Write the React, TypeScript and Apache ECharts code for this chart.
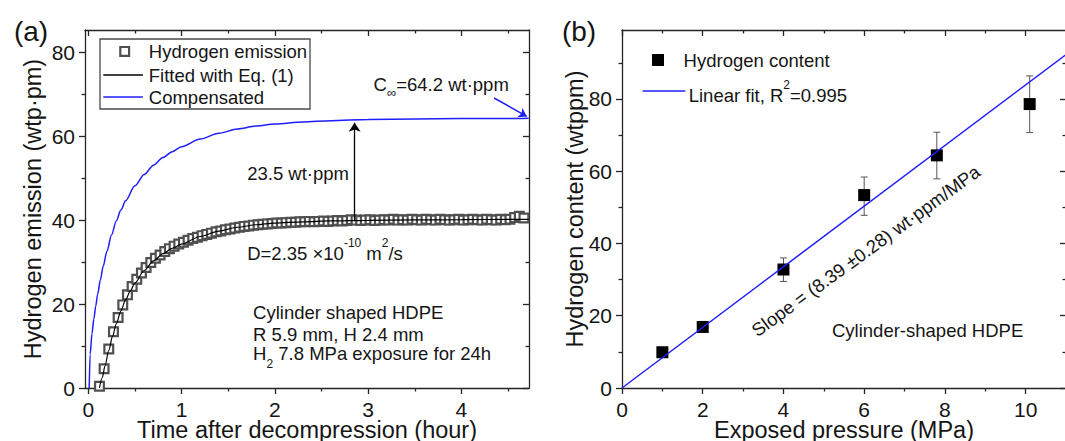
import React, { useEffect, useRef } from 'react';
import * as echarts from 'echarts';

// ---------- Panel (a) data ----------
const emissionT = [
  0.12, 0.17, 0.22, 0.27, 0.32, 0.37, 0.42, 0.47, 0.52, 0.57,
  0.62, 0.67, 0.72, 0.77, 0.82, 0.87, 0.92, 0.97, 1.02, 1.07,
  1.12, 1.17, 1.22, 1.27, 1.32, 1.37, 1.42, 1.47, 1.52, 1.57,
  1.62, 1.67, 1.72, 1.77, 1.82, 1.87, 1.92, 1.97, 2.02, 2.07,
  2.12, 2.17, 2.22, 2.27, 2.32, 2.37, 2.42, 2.47, 2.52, 2.57,
  2.62, 2.67, 2.72, 2.77, 2.82, 2.87, 2.92, 2.97, 3.02, 3.07,
  3.12, 3.17, 3.22, 3.27, 3.32, 3.37, 3.42, 3.47, 3.52, 3.57,
  3.62, 3.67, 3.72, 3.77, 3.82, 3.87, 3.92, 3.97, 4.02, 4.07,
  4.12, 4.17, 4.22, 4.27, 4.32, 4.37, 4.42, 4.47, 4.52, 4.57,
  4.62, 4.67,
];
const emissionV = [
  0.4, 4.6, 9.3, 13.4, 16.8, 19.8, 22.2, 24.2, 25.9, 27.4,
  28.7, 29.9, 30.9, 31.7, 32.5, 33.2, 33.8, 34.3, 34.7, 35.2,
  35.6, 35.9, 36.3, 36.6, 36.9, 37.2, 37.4, 37.7, 37.9, 38.1,
  38.3, 38.5, 38.6, 38.8, 38.9, 39.0, 39.1, 39.2, 39.3, 39.3,
  39.4, 39.5, 39.5, 39.6, 39.6, 39.7, 39.6, 39.7, 39.8, 39.7,
  39.8, 39.9, 39.8, 39.9, 40.1, 40.0, 39.9, 40.0, 40.1, 39.9,
  40.0, 40.1, 40.0, 40.2, 40.0, 40.1, 40.0, 40.2, 40.1, 40.0,
  40.2, 40.1, 40.0, 40.2, 40.1, 40.0, 40.1, 40.2, 40.0, 40.1,
  40.2, 40.1, 40.0, 40.2, 40.1, 40.0, 40.2, 40.1, 40.2, 40.6,
  40.9, 40.5,
];
const fitT = [0.12, 0.15, 0.18, 0.22, 0.26, 0.3, 0.35, 0.4, 0.45, 0.5, 0.6, 0.7, 0.8, 0.9, 1.0, 1.2, 1.4, 1.6, 1.8, 2.0, 2.3, 2.6, 3.0, 3.5, 4.0, 4.5, 4.72];
const fitV = [0, 2.5, 5.3, 9.0, 12.3, 15.3, 18.4, 21.0, 23.1, 25.0, 28.0, 30.3, 32.0, 33.3, 34.3, 36.1, 37.4, 38.3, 38.9, 39.3, 39.6, 39.8, 39.95, 40.05, 40.1, 40.2, 40.2];
const compT = [0.01, 0.02, 0.04, 0.06, 0.08, 0.1, 0.13, 0.16, 0.2, 0.25, 0.3, 0.35, 0.4, 0.5, 0.6, 0.7, 0.8, 0.9, 1.0, 1.2, 1.4, 1.6, 1.8, 2.0, 2.3, 2.6, 3.0, 3.5, 4.0, 4.5, 4.72];
const compV = [0, 8, 13, 16.5, 19.5, 22.3, 25.8, 29, 32.6, 36.5, 39.8, 42.4, 44.6, 48.2, 50.9, 53.1, 54.9, 56.3, 57.5, 59.3, 60.7, 61.7, 62.4, 62.9, 63.4, 63.7, 64.0, 64.1, 64.2, 64.2, 64.3];
// annotation arrows (data coordinates)
const gapArrow = [[2.855, 40.0], [2.855, 63.2]];
const cInfArrow = [[4.35, 69.1], [4.7, 64.7]];

const aXMajor = [0, 1, 2, 3, 4];
const aXMinor = [0.5, 1.5, 2.5, 3.5, 4.5];
const aYMajor = [0, 20, 40, 60, 80];
const aYMinor = [10, 30, 50, 70];

// ---------- Panel (b) data ----------
const pressure = [1, 2, 4, 6, 7.8, 10.1];
const content = [9.9, 16.9, 32.8, 53.4, 64.4, 78.6];
const contentLow = [8.9, 15.9, 29.5, 47.8, 57.9, 70.7];
const contentHigh = [10.9, 17.9, 36.0, 58.4, 70.8, 86.4];
const linFitP = [0, 11];
const linFitC = [0, 92.3];

const bXMajor = [0, 2, 4, 6, 8, 10];
const bXMinor = [1, 3, 5, 7, 9];
const bYMajor = [0, 20, 40, 60, 80];
const bYMinor = [10, 30, 50, 70, 90];

const FONT = "'Liberation Sans', Arial, Helvetica, sans-serif";
const TXT = '#151515';
const BLUE = '#1e1eff';
const GRAYM = '#505050';
const axLine = { color: '#262626', width: 1.3 };

function axesFor(dim: 'x' | 'y', grid: number, min: number, max: number, major: number[], minor: number[], name: string, nameGap: number) {
  const near = dim === 'x' ? 'bottom' : 'left';
  const far = dim === 'x' ? 'top' : 'right';
  const base = { type: 'value', gridIndex: grid, min, max, splitLine: { show: false } };
  const isX = dim === 'x';
  return [
    {
      ...base, position: near,
      axisLine: { show: true, onZero: false, lineStyle: axLine },
      axisTick: { show: true, inside: false, length: 6, customValues: major, lineStyle: axLine },
      axisLabel: isX
        ? { show: true, customValues: major, margin: 11.5, lineHeight: 19, fontSize: 21, fontFamily: FONT, color: TXT }
        : { show: true, customValues: major, margin: 10, fontSize: 21, fontFamily: FONT, color: TXT },
      name, nameLocation: 'middle', nameGap, nameMoveOverlap: false,
      nameTextStyle: isX
        ? { fontSize: 23.5, lineHeight: 20, fontFamily: FONT, color: TXT }
        : { fontSize: 23.5, fontFamily: FONT, color: TXT },
    },
    {
      ...base, position: near,
      axisLine: { show: false, onZero: false },
      axisTick: { show: true, inside: false, length: 3.5, customValues: minor, lineStyle: axLine },
      axisLabel: { show: false },
    },
    {
      ...base, position: far,
      axisLine: { show: true, onZero: false, lineStyle: axLine },
      axisTick: { show: true, inside: true, length: 6, customValues: major, lineStyle: axLine },
      axisLabel: { show: false },
    },
    {
      ...base, position: far,
      axisLine: { show: false, onZero: false },
      axisTick: { show: true, inside: true, length: 3.5, customValues: minor, lineStyle: axLine },
      axisLabel: { show: false },
    },
  ];
}

const mainTxt = { fontSize: 18.5, fontFamily: FONT, fill: TXT };

function txt(x: number, y: number, text: string, extra: any = {}) {
  return {
    type: 'text', x, y, silent: true,
    style: { text, ...mainTxt, align: 'left', verticalAlign: 'middle', ...extra },
  };
}

function buildOption() {
  const emission = emissionT.map((t, i) => [t, emissionV[i]]);
  const fit = fitT.map((t, i) => [t, fitV[i]]);
  const comp = compT.map((t, i) => [t, compV[i]]);
  const pts = pressure.map((p, i) => [p, content[i]]);
  const errs = pressure.map((p, i) => [p, contentLow[i], contentHigh[i]]);
  const lin = linFitP.map((p, i) => [p, linFitC[i]]);

  const xAxes = [
    ...axesFor('x', 0, -0.035, 4.724, aXMajor, aXMinor, 'Time after decompression (hour)', 32),
    ...axesFor('x', 1, 0, 11, bXMajor, bXMinor, 'Exposed pressure (MPa)', 32),
  ];
  const yAxes = [
    ...axesFor('y', 0, 0, 85.3, aYMajor, aYMinor, 'Hydrogen emission (wtp·pm)', 40),
    ...axesFor('y', 1, 0, 99.1, bYMajor, bYMinor, 'Hydrogen content (wtppm)', 35),
  ];

  const supRich = {
    a: { fontSize: 18.5, fontFamily: FONT, fill: TXT, lineHeight: 26, verticalAlign: 'bottom' },
    p: { fontSize: 12, fontFamily: FONT, fill: TXT, lineHeight: 11, verticalAlign: 'top' },
  };
  const subRich = {
    a: { fontSize: 18.5, fontFamily: FONT, fill: TXT, lineHeight: 26, verticalAlign: 'top' },
    b: { fontSize: 12, fontFamily: FONT, fill: TXT, lineHeight: 11, verticalAlign: 'bottom' },
  };
  const infRich = {
    a: { fontSize: 18.5, fontFamily: FONT, fill: TXT, lineHeight: 24, verticalAlign: 'top' },
    s: { fontSize: 13, fontFamily: FONT, fill: TXT, lineHeight: 13, verticalAlign: 'bottom' },
  };

  const graphicEls: any[] = [
    // panel labels
    { type: 'text', x: 31, y: 31, silent: true, style: { text: '(a)', fontSize: 28, fontFamily: FONT, fill: TXT, align: 'center', verticalAlign: 'middle' } },
    { type: 'text', x: 579, y: 31.5, silent: true, style: { text: '(b)', fontSize: 28, fontFamily: FONT, fill: TXT, align: 'center', verticalAlign: 'middle' } },
    // legend (a)
    { type: 'rect', silent: true, shape: { x: 100, y: 39, width: 210, height: 70 }, style: { fill: '#fff', stroke: '#4a4a4a', lineWidth: 1.3 }, z: 10 },
    { type: 'rect', silent: true, shape: { x: 120.3, y: 47, width: 8.8, height: 8.8 }, style: { fill: '#fff', stroke: GRAYM, lineWidth: 2.2 }, z: 11 },
    { type: 'line', silent: true, shape: { x1: 103.3, y1: 75, x2: 142.9, y2: 75 }, style: { stroke: '#000', lineWidth: 1.3 }, z: 11 },
    { type: 'line', silent: true, shape: { x1: 103.3, y1: 97, x2: 142.9, y2: 97 }, style: { stroke: BLUE, lineWidth: 1.5 }, z: 11 },
    { ...txt(148.8, 51.5, 'Hydrogen emission'), z: 11 },
    { ...txt(148.8, 75, 'Fitted with Eq. (1)'), z: 11 },
    { ...txt(148.8, 97, 'Compensated'), z: 11 },
    // annotations (a)
    { type: 'text', x: 373.6, y: 87, silent: true, style: { text: '{a|C}{s|∞}{a|=64.2 wt·ppm}', rich: infRich, align: 'left', verticalAlign: 'middle' } },
    txt(247.2, 173.3, '23.5 wt·ppm'),
    { type: 'text', x: 247.2, y: 250, silent: true, style: { text: '{a|D=2.35 ×10}{p|-10}{a| m}{p|2}{a|/s}', rich: supRich, align: 'left', verticalAlign: 'middle' } },
    txt(253.1, 312.2, 'Cylinder shaped HDPE'),
    txt(253.1, 334.5, 'R 5.9 mm, H 2.4 mm'),
    { type: 'text', x: 253.1, y: 357, silent: true, style: { text: '{a|H}{b|2}{a| 7.8 MPa exposure for 24h}', rich: subRich, align: 'left', verticalAlign: 'middle' } },
    // legend (b)
    { type: 'rect', silent: true, shape: { x: 652, y: 54, width: 12, height: 12 }, style: { fill: '#000' } },
    txt(683.6, 60, 'Hydrogen content'),
    { type: 'line', silent: true, shape: { x1: 642.6, y1: 91, x2: 685.3, y2: 91 }, style: { stroke: BLUE, lineWidth: 1.5 } },
    { type: 'text', x: 688.7, y: 91.5, silent: true, style: { text: '{a|Linear fit, R}{p|2}{a|=0.995}', rich: supRich, align: 'left', verticalAlign: 'middle' } },
    // annotations (b)
    { type: 'text', x: 865.8, y: 250.8, rotation: (36 * Math.PI) / 180, silent: true, style: { text: 'Slope = (8.39 ±0.28) wt·ppm/MPa', ...mainTxt, align: 'center', verticalAlign: 'middle' } },
    txt(832, 330, 'Cylinder-shaped HDPE'),
  ];

  return {
    animation: false,
    backgroundColor: '#ffffff',
    textStyle: { fontFamily: FONT },
    grid: [
      { left: 85, top: 30, width: 444, height: 358, outerBoundsMode: 'none', containLabel: false },
      { left: 622, top: 30, width: 444, height: 358, outerBoundsMode: 'none', containLabel: false },
    ],
    xAxis: xAxes,
    yAxis: yAxes,
    series: [
      {
        name: 'Hydrogen emission', type: 'scatter', xAxisIndex: 0, yAxisIndex: 0,
        data: emission, symbol: 'rect', symbolSize: 8.8,
        itemStyle: { color: '#ffffff', borderColor: GRAYM, borderWidth: 2.2, opacity: 1 },
        silent: true,
      },
      {
        name: 'Fitted with Eq. (1)', type: 'line', xAxisIndex: 0, yAxisIndex: 0,
        data: fit, symbol: 'none', smooth: 0.3, smoothMonotone: 'x',
        lineStyle: { color: '#000', width: 1.2 }, silent: true,
        markLine: {
          silent: true, symbol: ['none', 'arrow'], symbolSize: 9,
          lineStyle: { color: '#000', width: 1.3, type: 'solid' },
          label: { show: false },
          data: [[{ coord: gapArrow[0] }, { coord: gapArrow[1] }]],
        },
      },
      {
        name: 'Compensated', type: 'line', xAxisIndex: 0, yAxisIndex: 0,
        data: comp, symbol: 'none', smooth: 0.3, smoothMonotone: 'x',
        lineStyle: { color: BLUE, width: 1.5 }, silent: true,
        markLine: {
          silent: true, symbol: ['none', 'arrow'], symbolSize: 8,
          lineStyle: { color: BLUE, width: 1.5, type: 'solid' },
          label: { show: false },
          data: [[{ coord: cInfArrow[0] }, { coord: cInfArrow[1] }]],
        },
      },
      {
        name: 'error', type: 'custom', xAxisIndex: 4, yAxisIndex: 4,
        data: errs, encode: { x: 0, y: [1, 2] }, silent: true,
        renderItem: (params: any, api: any) => {
          const x = api.value(0);
          const top = api.coord([x, api.value(2)]);
          const bot = api.coord([x, api.value(1)]);
          const w = 3.5;
          const st = { stroke: '#555', lineWidth: 1 };
          return {
            type: 'group',
            children: [
              { type: 'line', shape: { x1: top[0], y1: top[1], x2: bot[0], y2: bot[1] }, style: st },
              { type: 'line', shape: { x1: top[0] - w, y1: top[1], x2: top[0] + w, y2: top[1] }, style: st },
              { type: 'line', shape: { x1: bot[0] - w, y1: bot[1], x2: bot[0] + w, y2: bot[1] }, style: st },
            ],
          };
        },
      },
      {
        name: 'Hydrogen content', type: 'scatter', xAxisIndex: 4, yAxisIndex: 4,
        data: pts, symbol: 'rect', symbolSize: 12,
        itemStyle: { color: '#000', opacity: 1 }, silent: true,
      },
      {
        name: 'Linear fit', type: 'line', xAxisIndex: 4, yAxisIndex: 4,
        data: lin, symbol: 'none', lineStyle: { color: BLUE, width: 1.5 }, silent: true,
      },
    ],
    graphic: { elements: graphicEls },
  };
}

export default function App() {
  const ref = useRef<HTMLDivElement>(null);
  useEffect(() => {
    if (!ref.current) return;
    const chart = echarts.init(ref.current, null, { renderer: 'svg', width: 1065, height: 441 });
    chart.setOption(buildOption() as any);
    return () => chart.dispose();
  }, []);
  return (
    <div
      ref={ref}
      style={{ position: 'fixed', left: 0, top: 0, width: 1065, height: 441, background: '#fff' }}
    />
  );
}
